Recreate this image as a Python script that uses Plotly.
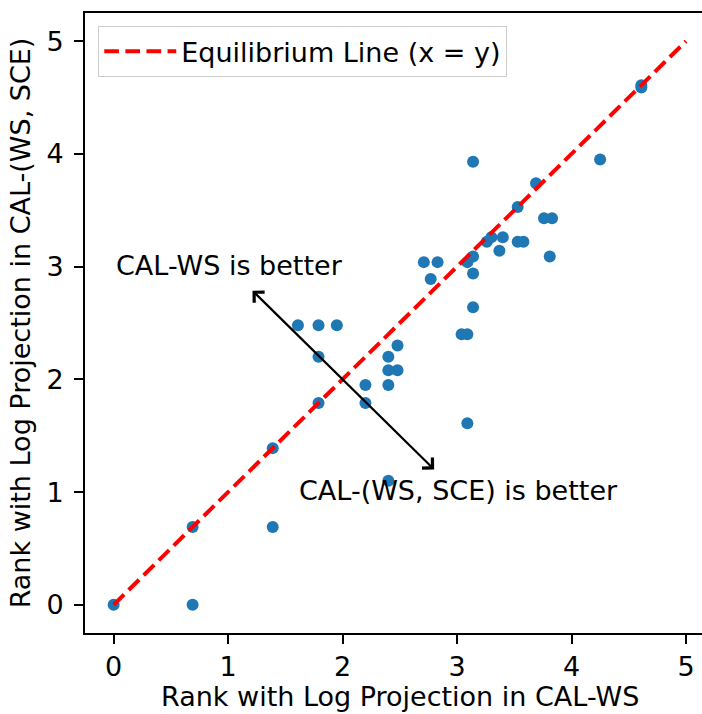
import plotly.graph_objects as go

# ---- data ----
x_cal_ws = [0.00, 0.69, 0.69, 1.39, 1.39, 1.61, 1.79, 1.95, 1.79, 1.79,
            2.20, 2.20, 2.40, 2.40, 2.48, 2.48, 2.40, 2.40, 2.71, 2.83,
            2.77, 3.04, 3.09, 3.09, 3.09, 3.14, 3.14, 3.14, 3.14, 3.26,
            3.30, 3.40, 3.37, 3.53, 3.58, 3.53, 3.69, 3.76, 3.83, 3.81,
            4.25, 4.61, 4.61]
y_cal_ws_sce = [0.00, 0.00, 0.69, 0.69, 1.39, 2.48, 2.48, 2.48, 2.20, 1.79,
                1.95, 1.79, 2.20, 2.08, 2.08, 2.30, 1.95, 1.10, 3.04, 3.04,
                2.89, 2.40, 2.40, 1.61, 3.04, 3.09, 2.94, 2.64, 3.93, 3.22,
                3.26, 3.26, 3.14, 3.22, 3.22, 3.53, 3.74, 3.43, 3.43, 3.09,
                3.95, 4.61, 4.59]
eq_x = [0, 5]
eq_y = [0, 5]
tick_vals = [0, 1, 2, 3, 4, 5]
tick_text = ["0", "1", "2", "3", "4", "5"]

FONT = "DejaVu Sans"
FS = 27

fig = go.Figure()
fig.add_trace(go.Scatter(
    x=x_cal_ws, y=y_cal_ws_sce, mode="markers",
    marker=dict(size=12, color="#1f77b4", line=dict(width=0)),
    showlegend=False,
))
fig.add_trace(go.Scatter(
    x=eq_x, y=eq_y, mode="lines", name="Equilibrium Line (x = y)",
    line=dict(color="red", width=4, dash="14.7px,6.4px"),
))

axis_common = dict(
    showgrid=False, zeroline=False, showline=True, linecolor="black",
    linewidth=2, ticks="outside", ticklen=9, tickwidth=2, tickcolor="black",
    tickfont=dict(family=FONT, size=FS, color="black"),
    tickvals=tick_vals, ticktext=tick_text,
)

fig.update_layout(
    width=702, height=714,
    margin=dict(l=85, r=0, t=13, b=81),
    paper_bgcolor="white", plot_bgcolor="white",
    font=dict(family=FONT, size=FS, color="black"),
    xaxis=dict(range=[-0.25, 5.14], mirror=True, **axis_common),
    yaxis=dict(range=[-0.25, 5.25], ticklabelstandoff=5, **axis_common,
               title=dict(text="Rank with Log Projection in CAL-(WS, SCE)",
                          font=dict(family=FONT, size=FS), standoff=8)),
    legend=dict(x=0.021, y=0.979, xanchor="left", yanchor="top",
                bgcolor="rgba(255,255,255,0.8)", bordercolor="#cccccc",
                borderwidth=1.3, itemwidth=72,
                font=dict(family=FONT, size=FS)),
    showlegend=True,
)

# x-axis title, centred on the full (cropped) matplotlib axes width
fig.add_annotation(x=2.5, y=0, xref="x", yref="paper",
                   text="Rank with Log Projection in CAL-WS",
                   showarrow=False, xanchor="center", yanchor="top",
                   yshift=-46,
                   font=dict(family=FONT, size=FS, color="black"))

fig.add_annotation(x=2.8, y=1.2, ax=1.2, ay=2.8, xref="x", yref="y",
                   axref="x", ayref="y", text="", showarrow=True,
                   arrowside="end+start", arrowhead=4, startarrowhead=4,
                   arrowsize=1.3, startarrowsize=1.3, arrowwidth=2.2,
                   arrowcolor="black")
fig.add_annotation(x=0.0, y=3.01, xref="x", yref="y", text="CAL-WS is better",
                   showarrow=False, xanchor="left", yanchor="middle",
                   font=dict(family=FONT, size=FS, color="black"))
fig.add_annotation(x=1.6, y=1.01, xref="x", yref="y",
                   text="CAL-(WS, SCE) is better",
                   showarrow=False, xanchor="left", yanchor="middle",
                   font=dict(family=FONT, size=FS, color="black"))

fig.write_html("out.html")
